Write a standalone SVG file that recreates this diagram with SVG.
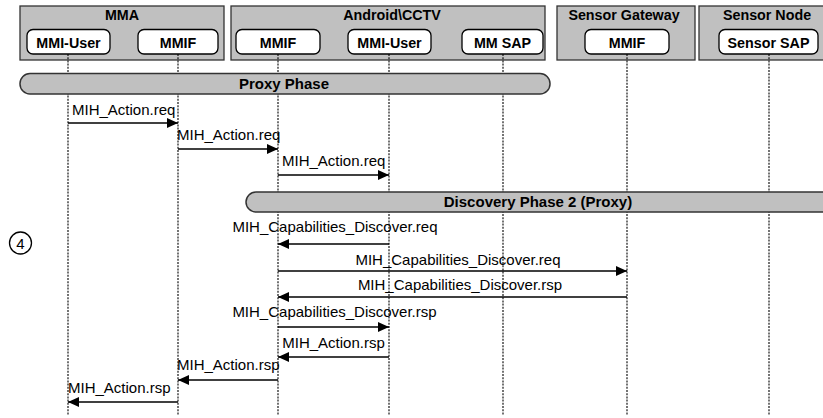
<svg xmlns="http://www.w3.org/2000/svg" width="823" height="418" viewBox="0 0 823 418">
  <style>
    .grp { fill: #c0c0c0; stroke: #333; stroke-width: 1.3; }
    .ent { fill: #fff; stroke: #000; stroke-width: 1.3; }
    .bar { fill: #c0c0c0; stroke: #333; stroke-width: 1.5; }
    .life { stroke: #000; stroke-width: 1.1; stroke-dasharray: 2 1.2; fill: none; }
    .msg { stroke: #000; stroke-width: 1.4; fill: none; marker-end: url(#arrow); }
    .b { font-family: "Liberation Sans", Arial, sans-serif; font-size: 14.3px; font-weight: bold; fill: #000; text-anchor: middle; }
    .bb { font-size: 15px; }
    .t { font-family: "Liberation Sans", Arial, sans-serif; font-size: 15px; fill: #000; }
    .c { text-anchor: middle; }
  </style>
  <defs>
    <marker id="arrow" markerUnits="userSpaceOnUse" markerWidth="12" markerHeight="11" refX="11" refY="5" orient="auto">
      <path d="M0,0 L11,5 L0,10 z" fill="#000"/>
    </marker>
  </defs>

  <!-- participant groups -->
  <g id="mma">
    <rect class="grp" x="20" y="6" width="204" height="54"/>
    <text class="b" x="122" y="20">MMA</text>
  </g>
  <g id="android-cctv">
    <rect class="grp" x="231" y="6" width="314" height="54"/>
    <text class="b" x="392" y="20">Android\CCTV</text>
  </g>
  <g id="sensor-gateway">
    <rect class="grp" x="557" y="6" width="138" height="54"/>
    <text class="b" x="624" y="20">Sensor Gateway</text>
  </g>
  <g id="sensor-node">
    <rect class="grp" x="699" y="6" width="130" height="54"/>
    <text class="b" x="767" y="20">Sensor Node</text>
  </g>

  <!-- lifelines -->
  <g id="lifelines">
    <line class="life" x1="68" y1="54" x2="68" y2="415"/>
    <line class="life" x1="178" y1="54" x2="178" y2="415"/>
    <line class="life" x1="278" y1="54" x2="278" y2="415"/>
    <line class="life" x1="389" y1="54" x2="389" y2="415"/>
    <line class="life" x1="503" y1="54" x2="503" y2="415"/>
    <line class="life" x1="627" y1="54" x2="627" y2="415"/>
    <line class="life" x1="769" y1="54" x2="769" y2="415"/>
  </g>

  <!-- entities -->
  <g id="mma-mmi-user">
    <rect class="ent" x="27" y="29.5" width="83" height="24.5" rx="6"/>
    <text class="b" x="68.5" y="47.5">MMI-User</text>
  </g>
  <g id="mma-mmif">
    <rect class="ent" x="138" y="29.5" width="80" height="24.5" rx="6"/>
    <text class="b" x="178" y="47.5">MMIF</text>
  </g>
  <g id="android-mmif">
    <rect class="ent" x="236" y="29.5" width="84" height="24.5" rx="6"/>
    <text class="b" x="278" y="47.5">MMIF</text>
  </g>
  <g id="android-mmi-user">
    <rect class="ent" x="348" y="29.5" width="83" height="24.5" rx="6"/>
    <text class="b" x="389.5" y="47.5">MMI-User</text>
  </g>
  <g id="android-mm-sap">
    <rect class="ent" x="462" y="29.5" width="81" height="24.5" rx="6"/>
    <text class="b" x="502.5" y="47.5">MM SAP</text>
  </g>
  <g id="gateway-mmif">
    <rect class="ent" x="585" y="29.5" width="84" height="24.5" rx="6"/>
    <text class="b" x="627" y="47.5">MMIF</text>
  </g>
  <g id="sensor-sap">
    <rect class="ent" x="719" y="29.5" width="99" height="24.5" rx="6"/>
    <text class="b" x="768.5" y="47.5">Sensor SAP</text>
  </g>

  <!-- phase bars -->
  <g id="proxy-phase">
    <rect class="bar" x="20" y="73.5" width="530" height="20.5" rx="10"/>
    <text class="b bb" x="284" y="89">Proxy Phase</text>
  </g>
  <g id="discovery-phase-2">
    <rect class="bar" x="246" y="192" width="590" height="20" rx="10"/>
    <text class="b bb" x="538" y="207">Discovery Phase 2 (Proxy)</text>
  </g>

  <!-- step marker -->
  <g id="step-4">
    <circle cx="20.5" cy="243" r="11" fill="#fff" stroke="#000" stroke-width="1.3"/>
    <text class="t c" x="20.5" y="248.5">4</text>
  </g>

  <!-- messages -->
  <g id="connectors">
    <line class="msg" x1="68" y1="123" x2="178" y2="123"/>
    <text class="t" x="72" y="115">MIH_Action.req</text>

    <line class="msg" x1="178" y1="149" x2="278" y2="149"/>
    <text class="t" x="177" y="140">MIH_Action.req</text>

    <line class="msg" x1="278" y1="175" x2="389" y2="175"/>
    <text class="t" x="282" y="166">MIH_Action.req</text>

    <line class="msg" x1="389" y1="244" x2="278" y2="244"/>
    <text class="t c" x="335" y="232">MIH_Capabilities_Discover.req</text>

    <line class="msg" x1="278" y1="271" x2="627" y2="271"/>
    <text class="t c" x="458" y="265">MIH_Capabilities_Discover.req</text>

    <line class="msg" x1="627" y1="297" x2="278" y2="297"/>
    <text class="t c" x="460" y="290">MIH_Capabilities_Discover.rsp</text>

    <line class="msg" x1="278" y1="327" x2="389" y2="327"/>
    <text class="t c" x="334.5" y="317">MIH_Capabilities_Discover.rsp</text>

    <line class="msg" x1="389" y1="357" x2="278" y2="357"/>
    <text class="t c" x="333.5" y="348">MIH_Action.rsp</text>

    <line class="msg" x1="278" y1="380" x2="178" y2="380"/>
    <text class="t" x="177" y="370">MIH_Action.rsp</text>

    <line class="msg" x1="178" y1="402" x2="68" y2="402"/>
    <text class="t" x="68" y="393">MIH_Action.rsp</text>
  </g>
</svg>
